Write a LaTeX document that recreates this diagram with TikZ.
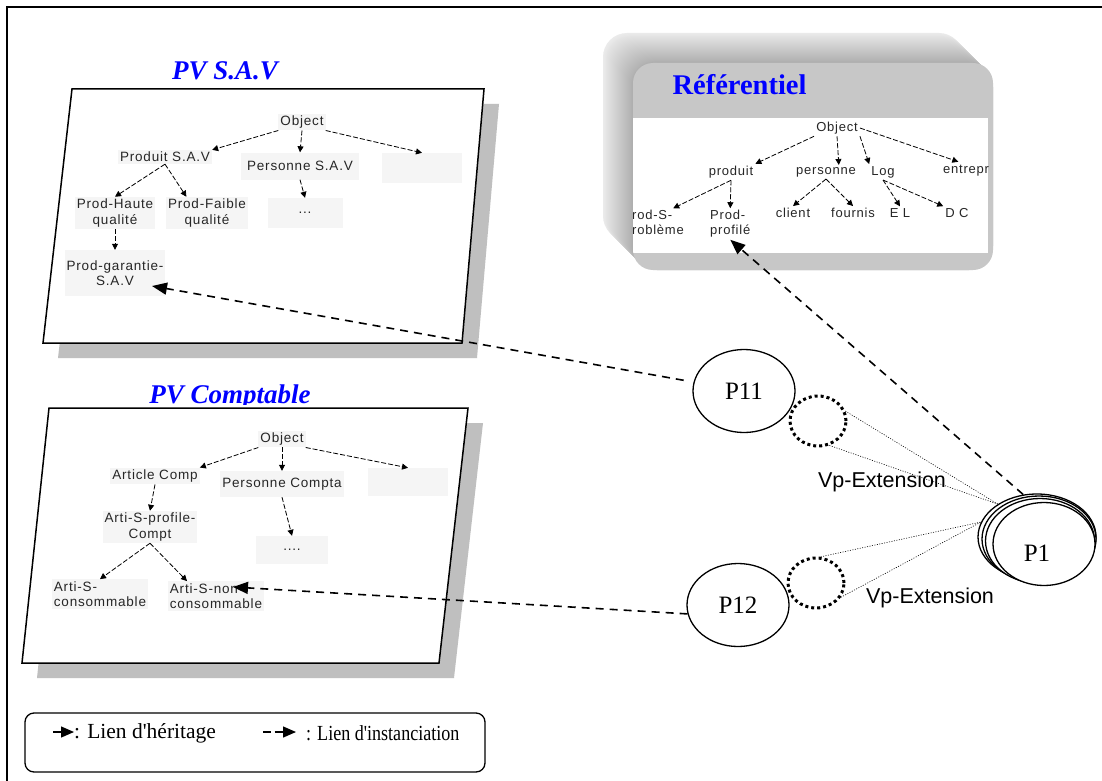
\documentclass[tikz,border=0pt]{standalone}
\usepackage{fontspec}
\setmainfont{Liberation Serif}
\newfontfamily\arialf{Liberation Sans}
\newfontfamily\arialsp[LetterSpace=6]{Liberation Sans}
\usetikzlibrary{arrows.meta,shapes.geometric,calc}
\definecolor{purebl}{RGB}{0,0,255}
\begin{document}
\begin{tikzpicture}[x=1pt,y=-1pt,
  treenode/.style={font=\arialsp\fontsize{13.5}{15.5}\selectfont, text=black!85, fill=black!4, inner sep=2pt, align=center},
  refnode/.style={font=\arialsp\fontsize{13}{15}\selectfont, text=black!85, inner sep=2pt, align=center},
  inh/.style={line width=0.8pt, dash pattern=on 5pt off 2pt, -{Triangle[length=6pt,width=6pt]}},
  inst/.style={line width=1.6pt, dash pattern=on 8pt off 6pt, -{Triangle[length=15pt,width=12pt]}},
  pnode/.style={ellipse, draw, line width=1.3pt, fill=white, minimum width=102pt, minimum height=83pt, inner sep=0pt, font=\fontsize{25}{28}\selectfont},
  vpring/.style={ellipse, draw, line width=3pt, dash pattern=on 3pt off 3pt, minimum width=56pt, minimum height=50pt, inner sep=0pt},
  spoke/.style={line width=0.6pt, dash pattern=on 1pt off 1.5pt},
  panel/.style={draw=black, line width=1.5pt, fill=white},
  panelshadow/.style={fill=black!25},
  pvtitle/.style={font=\bfseries\itshape\fontsize{27}{29}\selectfont, text=purebl, anchor=base, inner sep=0pt},
  legtext/.style={font=\fontsize{21.5}{24}\selectfont, anchor=west, inner sep=0pt},
  legarrow/.style={line width=1.3pt, -{Triangle[length=13pt,width=11pt]}},
  vplabel/.style={font=\arialf\fontsize{21.5}{24}\selectfont, inner sep=0pt}
]
\useasboundingbox (0,0) rectangle (1102,781);
\clip (0,0) rectangle (1102,781);
\fill[white] (0,0) rectangle (1102,781);

% outer frame
\draw[line width=1.5pt] (7,800) -- (7,7) -- (1120,7);

% ---------------- PV S.A.V ----------------
\node[pvtitle] (t-sav) at (225,80) {PV S.A.V};
\fill[panelshadow] (87,104) -- (499,104) -- (477,358) -- (58,358) -- cycle;
\draw[panel] (72,89) -- (484,89) -- (462,343) -- (43,343) -- cycle;

\node[treenode] (s-obj) at (302,122) {Object};
\node[treenode] (s-prod) at (165,157) {Produit S.A.V};
\node[treenode, minimum width=118pt, minimum height=27pt] (s-pers) at (300,166) {Personne S.A.V};
\node[treenode, minimum width=80pt, minimum height=30pt] (s-emp) at (422,168) {};
\node[treenode] (s-haute) at (115,213) {Prod-Haute\\qualité};
\node[treenode] (s-faible) at (207,213) {Prod-Faible\\qualité};
\node[treenode, minimum width=75pt, minimum height=30pt] (s-dots) at (305,213) {...};
\node[treenode, minimum width=96pt, minimum height=46pt] (s-gar) at (115,273) {Prod-garantie-\\S.A.V};

\draw[inh] (s-obj.south west) -- (s-prod.north east);
\draw[inh] (s-obj.south) -- (s-pers.north);
\draw[inh] (s-obj.south east) -- (s-emp.north);
\draw[inh] (s-prod.south) -- (s-haute.north);
\draw[inh] (s-prod.south) -- ($(s-faible.north west)!0.25!(s-faible.north east)$);
\draw[inh] (s-pers.south) -- (s-dots.north);
\draw[inh] (s-haute.south) -- (s-gar.north);

% ---------------- PV Comptable ----------------
\begin{scope}
  \clip (100,370) rectangle (360,404);
  \node[pvtitle] (t-cpt) at (230,403) {PV Comptable};
\end{scope}
\fill[panelshadow] (64,423) -- (483,423) -- (454,678) -- (37,678) -- cycle;
\draw[panel] (49,408) -- (468,408) -- (439,663) -- (22,663) -- cycle;

\node[treenode] (c-obj) at (282,439) {Object};
\node[treenode] (c-art) at (155,476) {Article Comp};
\node[treenode, minimum width=112pt, minimum height=26pt] (c-pers) at (282,484) {Personne Compta};
\node[treenode, minimum width=80pt, minimum height=28pt] (c-emp) at (408,482) {};
\node[treenode] (c-prof) at (150,527) {Arti-S-profile-\\Compt};
\node[treenode, minimum width=72pt, minimum height=28pt] (c-dots) at (292,550) {....};
\node[treenode, align=left] (c-cons) at (100,594) {Arti-S-\\consommable};
\node[treenode, align=left] (c-ncons) at (216,596) {Arti-S-non-\\consommable};

\draw[inh] (c-obj.south west) -- (c-art.north east);
\draw[inh] (c-obj.south) -- (c-pers.north);
\draw[inh] (c-obj.south east) -- (c-emp.north);
\draw[inh] (c-art.south) -- (c-prof.north);
\draw[inh] (c-pers.south) -- (c-dots.north);
\draw[inh] (c-prof.south) -- (c-cons.north);
\draw[inh] (c-prof.south) -- ($(c-ncons.north west)!0.2!(c-ncons.north east)$);

% ---------------- Référentiel ----------------
\foreach \i in {0,...,30} {
  \pgfmathsetmacro{\gv}{8+0.8*\i}
  \fill[black!\gv, rounded corners=24pt] (603+\i,33+\i) rectangle (963+\i,240+\i);
}
\fill[black!22, rounded corners=20pt] (633,63) rectangle (993,270);
\begin{scope}
  \clip[rounded corners=20pt] (633,63) rectangle (993,270);
  \fill[white] (633,118) rectangle (988,253);
\end{scope}
\node[font=\bfseries\fontsize{28.5}{30}\selectfont, text=purebl, anchor=west] (reftitle) at (669,85) {Référentiel};

\begin{scope}
  \clip (633,118) rectangle (988,253);
  \node[refnode] (r-obj) at (837,128) {Object};
  \node[refnode] (r-prod) at (731,172) {produit};
  \node[refnode] (r-pers) at (826,172) {personne};
  \node[refnode] (r-log) at (883,172) {Log};
  \node[refnode, anchor=west] (r-ent) at (941,170) {entreprise};
  \node[refnode, align=left, anchor=east] (r-pS) at (686,224) {prod-S-\\problème};
  \node[refnode, align=left, anchor=west] (r-pp) at (708,224) {Prod-\\profilé};
  \node[refnode] (r-cli) at (793,213) {client};
  \node[refnode] (r-fou) at (853,213) {fournis};
  \node[refnode] (r-el) at (900,213) {E L};
  \node[refnode] (r-dc) at (957,213) {D C};

  \draw[inh] (r-obj.south west) -- (r-prod.north east);
  \draw[inh] (r-obj.south) -- ($(r-pers.north west)!0.7!(r-pers.north east)$);
  \draw[inh] (r-obj.south east) -- (r-log.north west);
  \draw[inh] (r-obj.east) -- ($(r-ent.north west)!0.25!(r-ent.north east)$);
  \draw[inh] (r-prod.south) -- ($(r-pS.north)!0.6!(r-pS.north east)$);
  \draw[inh] (r-prod.south) -- (r-pp.north);
  \draw[inh] (r-pers.south) -- (r-cli.north);
  \draw[inh] (r-pers.south) -- (r-fou.north);
  \draw[inh] (r-log.south) -- (r-el.north);
  \draw[inh] (r-log.south) -- (r-dc.north west);
\end{scope}

% ---------------- points de variation ----------------
\node[pnode] (p11) at (744,391) {P11};
\node[pnode] (p12) at (738,605) {P12};

\node[pnode, minimum width=118pt, minimum height=86pt] (p1x) at (1037,537) {};
\node[pnode, minimum width=114pt, minimum height=86pt] (p1y) at (1039,539) {};
\node[pnode, minimum width=109pt, minimum height=85pt] (p1z) at (1040,541) {};
\node[pnode] (p1) at (1044,544) {};
\node[font=\fontsize{25}{28}\selectfont, inner sep=0pt] (p1t) at (1037,553) {P1};

\node[vpring] (v1) at (818,421) {};
\node[vpring] (v2) at (816,583) {};

\draw[spoke] (v1.20) -- (p1x.140);
\draw[spoke] (v1.-65) -- (p1x.140);
\draw[spoke] (v2.80) -- (p1x.165);
\draw[spoke] (v2.-30) -- (p1x.165);

\node[vplabel] (vp1) at (882,482) {Vp-Extension};
\node[vplabel] (vp2) at (930,598) {Vp-Extension};

% liens d'instanciation
\coordinate (gar-in) at (152,286);
\coordinate (ncons-in) at (233,587);
\draw[inst, shorten <=10pt] (p11) -- (gar-in);
\draw[inst] (p12.190) -- (ncons-in);
\draw[inst] (p1x.108) -- (r-pp.south);

% ---------------- légende ----------------
\node[draw, line width=1.3pt, rounded corners=9pt, minimum width=460pt, minimum height=59pt, inner sep=0pt] (legend) at (255,742.5) {};
\node[legtext] (lt1) at (74,733) {: Lien d\textquotesingle héritage};
\node[legtext] (lt2) at (306,733) {\scalebox{0.84}[1]{: Lien d\textquotesingle instanciation}};
\coordinate (la1) at (53,732);
\coordinate (la2) at (263,732);
\draw[legarrow] (la1) -- (lt1.west |- la1);
\draw[legarrow, dash pattern=on 8pt off 3.5pt, shorten >=10pt] (la2) -- (lt2.west |- la2);
\end{tikzpicture}
\end{document}
